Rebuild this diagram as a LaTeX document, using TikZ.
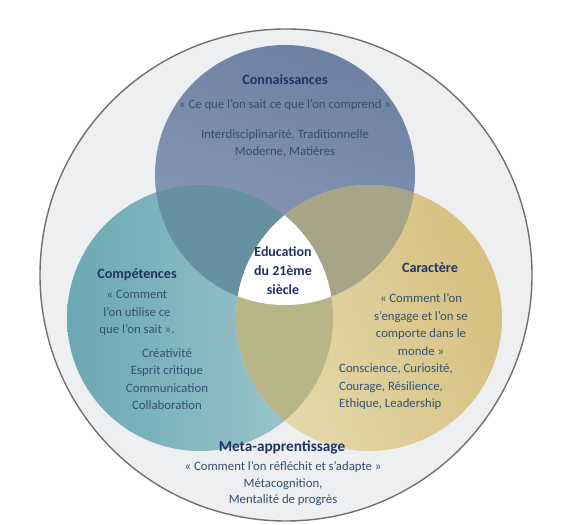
\documentclass[tikz,border=0pt]{standalone}
\usepackage{fontspec}
\setmainfont{Carlito}
\usetikzlibrary{positioning}
\definecolor{VennNavy}{HTML}{1F3462}
\definecolor{VennText}{HTML}{34506F}
\definecolor{VennFrame}{HTML}{EEEFF1}
\definecolor{VennEdge}{HTML}{707070}
\definecolor{KnowDark}{HTML}{6E80A3}
\definecolor{KnowLight}{HTML}{8C9CBA}
\definecolor{SkillDark}{HTML}{6BA8B4}
\definecolor{SkillLight}{HTML}{A3C9CE}
\definecolor{CharLight}{HTML}{E6DAB0}
\definecolor{CharDark}{HTML}{D5C07E}
\definecolor{KnowSkill}{HTML}{6791A0}
\definecolor{KnowChar}{HTML}{A8A488}
\definecolor{SkillChar}{HTML}{B8B688}

\begin{document}
\begin{tikzpicture}[x=1bp,y=1bp]
  \tikzset{title/.style={font=\fontsize{14.2}{16}\selectfont\bfseries,text=VennNavy,inner sep=0pt},
           body/.style={font=\fontsize{12.8}{17.5}\selectfont,text=VennText,align=center,inner sep=0pt}}
  \useasboundingbox (0,0) rectangle (575,525);
  % circle centres
  \coordinate (frame) at (286,250);
  \coordinate (know) at (285,350);
  \coordinate (skill) at (200,207);
  \coordinate (char) at (369,207);
  % outer ring
  \draw[fill=VennFrame,draw=VennEdge,line width=1.4bp] (frame) circle[radius=246];
  % the three sets
  \shade[top color=KnowDark,bottom color=KnowLight,shading angle=-20] (know) circle[radius=130];
  \shade[left color=SkillDark,right color=SkillLight] (skill) circle[radius=133];
  \shade[left color=CharLight,right color=CharDark,shading angle=110] (char) circle[radius=133];
  % overlaps
  \begin{scope}
    \clip (know) circle[radius=130];
    \fill[KnowSkill] (skill) circle[radius=133];
    \fill[KnowChar] (char) circle[radius=133];
  \end{scope}
  \begin{scope}
    \clip (skill) circle[radius=133];
    \fill[SkillChar] (char) circle[radius=133];
    \clip (char) circle[radius=133];
    \fill[white] (know) circle[radius=130];
  \end{scope}
  % texts
  \node[title] (knowTitle) at (285,445) {Connaissances};
  \node[body] (knowQuote) at (285,420) {« Ce que l’on sait ce que l’on comprend »};
  \node[body] (knowList) at (285,381.5) {Interdisciplinarité, Traditionnelle\\Moderne, Matières};
  \node[title,align=center,font=\fontsize{14}{19}\selectfont\bfseries] (centre) at (283,254) {Education\\du 21ème\\siècle};
  \node[title] (skillTitle) at (137,250) {Compétences};
  \node[body] (skillQuote) at (137,212) {« Comment\\l’on utilise ce\\que l’on sait ».};
  \node[body] (skillList) at (167,146) {Créativité\\Esprit critique\\Communication\\Collaboration};
  \node[title] (charTitle) at (430,257) {Caractère};
  \node[body] (charQuote) at (421,200.5) {« Comment l’on\\s’engage et l’on se\\comporte dans le\\monde »};
  \node[body,align=left,anchor=west] (charList) at (339,138) {Conscience, Curiosité,\\Courage, Résilience,\\Ethique, Leadership};
  \node[title,font=\fontsize{15.3}{17}\selectfont\bfseries] (metaTitle) at (282,78) {Meta-apprentissage};
  \node[body] (metaQuote) at (283,58) {« Comment l’on réfléchit et s’adapte »};
  \node[body,font=\fontsize{12.8}{16}\selectfont] (metaList) at (283,33) {Métacognition,\\Mentalité de progrès};
\end{tikzpicture}
\end{document}
